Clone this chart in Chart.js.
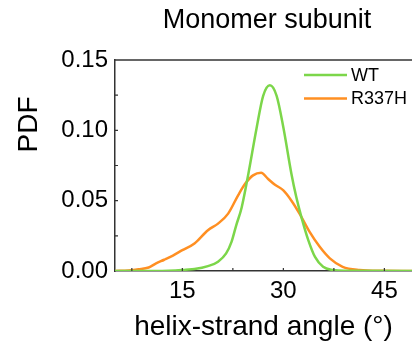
<!DOCTYPE html>
<html>
<head>
<meta charset="utf-8">
<title>Monomer subunit</title>
<script src="https://cdn.jsdelivr.net/npm/chart.js@4.4.0/dist/chart.umd.min.js"></script>
<style>
  html, body { margin: 0; padding: 0; background: #fff; }
</style>
</head>
<body>
<canvas id="pdfChart" width="412" height="345"></canvas>
<script>
// Distribuzioni dell'angolo elica-foglietto (densità di probabilità)
const chartTitle = 'Monomer subunit';
const xTitle = 'helix-strand angle (°)';
const yTitle = 'PDF';

const seriesNames = ['WT', 'R337H'];
const seriesColors = ['rgb(124, 214, 74)', 'rgb(255, 143, 34)'];

// WT
const wtAngle = [5, 12, 14, 15.5, 16.8, 18.8, 20.3, 21.5, 22.3, 23, 23.8, 24.8, 26, 27, 28, 29, 30, 31.2, 31.9, 32.7, 33.7, 34.7, 35.9, 37.4, 39, 49.1];
const wtPdf = [0, 0, 0.0003, 0.0009, 0.0014, 0.0035, 0.0066, 0.0125, 0.0207, 0.0325, 0.045, 0.069, 0.101, 0.1245, 0.132, 0.1245, 0.102, 0.069, 0.053, 0.038, 0.022, 0.010, 0.003, 0.0007, 0.0001, 0];

// R337H
const mutAngle = [5, 7, 8.5, 10, 11.1, 12.3, 13.6, 15, 16.8, 18.8, 20.3, 21.8, 23.3, 24.4, 25.5, 26.7, 27.7, 28.7, 30, 31.2, 32.4, 33.9, 35.4, 36.9, 38.8, 41.3, 44.7, 49.1];
const mutPdf = [0, 0.0004, 0.0012, 0.0025, 0.0054, 0.008, 0.011, 0.0148, 0.0196, 0.029, 0.0337, 0.0408, 0.054, 0.0625, 0.068, 0.0698, 0.0656, 0.0615, 0.0573, 0.050, 0.0408, 0.0278, 0.0172, 0.009, 0.003, 0.0007, 0.0001, 0];

// Assi: tacche (principali con etichetta, secondarie senza)
const xMin = 5, xMax = 49.1;
const xTicks = [7.5, 15, 22.5, 30, 37.5, 45];
const xTickLabels = ['', '15', '', '30', '', '45'];
const yMin = 0, yMax = 0.15;
const yTicks = [0, 0.025, 0.05, 0.075, 0.10, 0.125, 0.15];
const yTickLabels = ['0.00', '', '0.05', '', '0.10', '', '0.15'];

const AXIS_COLOR = '#333';
const FONT = '"Liberation Sans", Arial, sans-serif';

Chart.defaults.font.family = FONT;
Chart.defaults.color = '#000';

function toPoints(xs, ys) {
    return xs.map((x, i) => ({ x: x, y: ys[i] }));
}

// Cornice superiore, tacche interne, titolo, etichetta asse y e legenda
const decorations = {
    id: 'decorations',
    afterDraw(chart) {
        const { ctx, chartArea: a, scales: { x, y } } = chart;
        ctx.save();

        ctx.strokeStyle = AXIS_COLOR;
        ctx.lineWidth = 1.5;
        ctx.beginPath();
        ctx.moveTo(a.left, a.top);
        ctx.lineTo(a.right, a.top);
        ctx.stroke();

        // tacche verso l'interno
        ctx.lineWidth = 1.2;
        ctx.beginPath();
        x.ticks.forEach(t => {
            const px = x.getPixelForValue(t.value);
            if (px <= a.left + 1 || px >= a.right - 1) return;
            ctx.moveTo(px, a.bottom);
            ctx.lineTo(px, a.bottom - 3);
        });
        y.ticks.forEach(t => {
            const py = y.getPixelForValue(t.value);
            if (py >= a.bottom - 1 || py <= a.top + 1) return;
            ctx.moveTo(a.left, py);
            ctx.lineTo(a.left + 3, py);
        });
        ctx.stroke();

        ctx.fillStyle = '#000';
        ctx.font = '27px ' + FONT;
        ctx.textAlign = 'center';
        ctx.textBaseline = 'alphabetic';
        ctx.fillText(chartTitle, 267, 28);

        ctx.save();
        ctx.translate(37, 124.5);
        ctx.rotate(-Math.PI / 2);
        ctx.font = '28px ' + FONT;
        ctx.fillText(yTitle, 0, 0);
        ctx.restore();

        // legenda
        ctx.font = '18px ' + FONT;
        ctx.textAlign = 'left';
        ctx.textBaseline = 'middle';
        chart.data.datasets.forEach((ds, i) => {
            const ly = 75 + i * 23.5;
            ctx.strokeStyle = ds.borderColor;
            ctx.lineWidth = 2.5;
            ctx.beginPath();
            ctx.moveTo(304, ly);
            ctx.lineTo(347, ly);
            ctx.stroke();
            ctx.fillStyle = '#000';
            ctx.fillText(ds.label, 351, ly + 1);
        });

        ctx.restore();
    }
};

const ctx = document.getElementById('pdfChart').getContext('2d');

new Chart(ctx, {
    type: 'line',
    data: {
        datasets: [{
            label: seriesNames[0],
            data: toPoints(wtAngle, wtPdf),
            borderColor: seriesColors[0],
            borderWidth: 2.5,
            pointRadius: 0,
            fill: false,
            cubicInterpolationMode: 'monotone'
        }, {
            label: seriesNames[1],
            data: toPoints(mutAngle, mutPdf),
            borderColor: seriesColors[1],
            borderWidth: 2.5,
            pointRadius: 0,
            fill: false,
            cubicInterpolationMode: 'monotone'
        }]
    },
    options: {
        responsive: false,
        animation: false,
        layout: { padding: { top: 60, right: 0, bottom: 0, left: 0 } },
        plugins: {
            legend: { display: false },
            tooltip: { enabled: false },
            title: { display: false }
        },
        scales: {
            x: {
                type: 'linear',
                min: xMin,
                max: xMax,
                afterBuildTicks: s => { s.ticks = xTicks.map(v => ({ value: v })); },
                ticks: {
                    autoSkip: false,
                    maxRotation: 0,
                    padding: 6,
                    font: { size: 24 },
                    callback: (v, i) => xTickLabels[i]
                },
                grid: { drawOnChartArea: false, drawTicks: false },
                border: { display: true, color: AXIS_COLOR, width: 1.5 },
                title: {
                    display: true,
                    text: xTitle,
                    font: { size: 28 },
                    padding: { top: 0, bottom: 1 }
                },
                afterFit: s => { s.height = 74; s.paddingRight = 0; }
            },
            y: {
                min: yMin,
                max: yMax,
                afterBuildTicks: s => { s.ticks = yTicks.map(v => ({ value: v })); },
                ticks: {
                    autoSkip: false,
                    padding: 7,
                    font: { size: 24 },
                    callback: (v, i) => yTickLabels[i]
                },
                grid: { drawOnChartArea: false, drawTicks: false },
                border: { display: true, color: AXIS_COLOR, width: 1.5 },
                afterFit: s => { s.width = 115; }
            }
        }
    },
    plugins: [decorations]
});
</script>
</body>
</html>
